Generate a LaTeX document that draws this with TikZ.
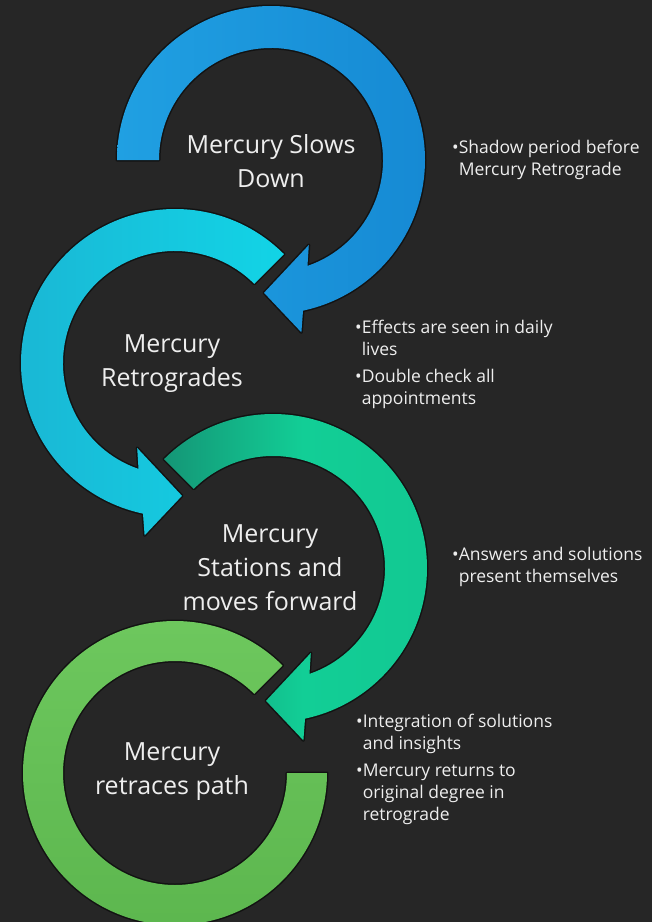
\documentclass[tikz,border=0pt]{standalone}
\usepackage{fontspec}
\setmainfont{Open Sans}
\definecolor{bg}{HTML}{262626}
\definecolor{txt}{HTML}{EEEEEE}
\begin{document}
\begin{tikzpicture}[x=1pt,y=1pt,
  shadowsty/.style={draw=black,line width=3pt,opacity=0.5,line join=round},
  label/.style={text=txt,align=center,font=\fontsize{25}{34}\selectfont},
  bul/.style={text=txt,align=left,inner sep=0pt,font=\fontsize{17.5}{22}\selectfont}]
\fill[bg] (0,0) rectangle (652,-922);
\useasboundingbox (0,0) rectangle (652,-922);
% arc 4 (green)
\begin{scope}[shift={(175,-773)}]
\def\arcD{(45:152) arc[start angle=45,end angle=360,radius=152] -- (0:112) arc[start angle=360,end angle=45,radius=112] -- cycle}
\path[shadowsty] \arcD;
\shade[top color={rgb,255:red,110;green,200;blue,94},bottom color={rgb,255:red,92;green,182;blue,78}] \arcD;
\end{scope}
% arc 3 (teal)
\begin{scope}[shift={(273,-568)}]
\def\arcC{(135:154) arc[start angle=135,end angle=-78,radius=154] -- (-80:175) -- (-93:133) -- (-66:93) -- (-71:112) arc[start angle=-71,end angle=135,radius=112] -- cycle}
\path[shadowsty] \arcC;
\shade[left color={rgb,255:red,20;green,150;blue,118},right color={rgb,255:red,18;green,200;blue,146},middle color={rgb,255:red,18;green,206;blue,150}] \arcC;
\end{scope}
% arc 2 (cyan)
\begin{scope}[shift={(175,-363)}]
\def\arcB{(45:154) arc[start angle=45,end angle=258,radius=154] -- (260:175) -- (273:133) -- (246:93) -- (251:112) arc[start angle=251,end angle=45,radius=112] -- cycle}
\path[shadowsty] \arcB;
\shade[left color={rgb,255:red,26;green,182;blue,212},right color={rgb,255:red,18;green,212;blue,230}] \arcB;
\end{scope}
% arc 1 (blue)
\begin{scope}[shift={(271,-160)}]
\def\arcA{(180:154) arc[start angle=180,end angle=-78,radius=154] -- (-80:175) -- (-93:133) -- (-66:93) -- (-71:112) arc[start angle=-71,end angle=180,radius=112] -- cycle}
\path[shadowsty] \arcA;
\shade[left color={rgb,255:red,32;green,160;blue,226},right color={rgb,255:red,22;green,138;blue,212}] \arcA;
\end{scope}
% labels
\node[label] (l1) at (271,-161) {Mercury Slows\\Down};
\node[label] (l2) at (172,-364) {Mercury\\Retrogrades};
\node[label] (l3) at (270,-568) {Mercury\\Stations and\\moves forward};
\node[label] (l4) at (172,-772) {Mercury\\retraces path};
% bullets (base anchor = last line baseline)
\node[bul,anchor=base west] (b1) at (452,-175) {•Shadow period before\\\phantom{•}Mercury Retrograde};
\node[bul,anchor=base west] (b2) at (355,-404) {•Effects are seen in daily\\\phantom{•}lives\\[5pt]•Double check all\\\phantom{•}appointments};
\node[bul,anchor=base west] (b3) at (452,-582) {•Answers and solutions\\\phantom{•}present themselves};
\node[bul,anchor=base west] (b4) at (356,-820) {•Integration of solutions\\\phantom{•}and insights\\[5pt]•Mercury returns to\\\phantom{•}original degree in\\\phantom{•}retrograde};
\end{tikzpicture}
\end{document}
